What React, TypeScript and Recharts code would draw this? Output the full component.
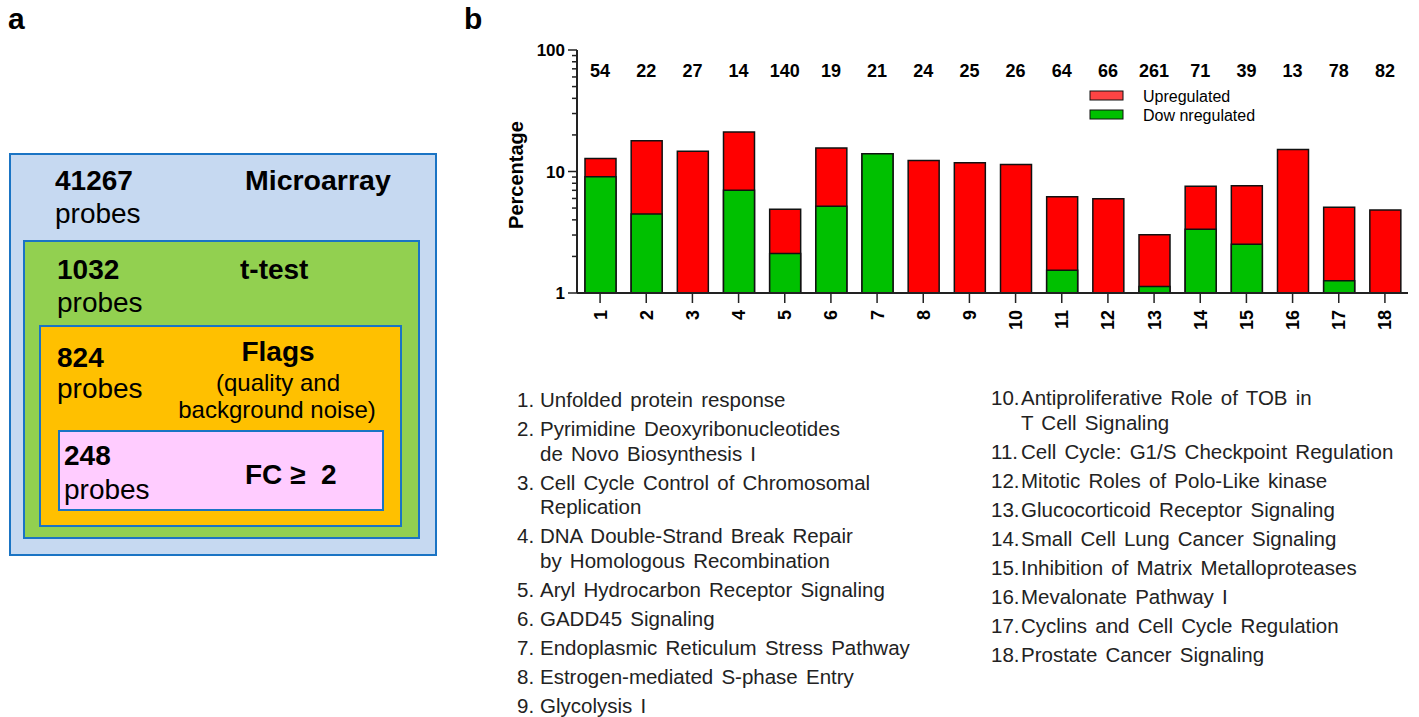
import React from 'react'
import { BarChart, Bar, XAxis, YAxis, Legend } from 'recharts'

// pathway ids on the x axis, gene counts printed above the bars
const pathwayIds = ['1', '2', '3', '4', '5', '6', '7', '8', '9', '10', '11', '12', '13', '14', '15', '16', '17', '18']
const geneCounts = [54, 22, 27, 14, 140, 19, 21, 24, 25, 26, 64, 66, 261, 71, 39, 13, 78, 82]
// top of the red bar (up + down) and top of the green bar (down), in %
const totalPct = [12.8, 17.9, 14.7, 21.1, 4.9, 15.6, 14.0, 12.3, 11.8, 11.4, 6.2, 5.97, 3.02, 7.55, 7.64, 15.2, 5.07, 4.82]
const downPct = [9.06, 4.47, null, 7.0, 2.11, 5.17, 14.0, null, null, null, 1.54, null, 1.13, 3.34, 2.52, null, 1.26, null]
const yTicks = [1, 2, 3, 4, 5, 6, 7, 8, 9, 10, 20, 30, 40, 50, 60, 70, 80, 90, 100]
const majorTicks = [1, 10, 100]

const pathwayNames = [
  ['Unfolded protein response'],
  ['Pyrimidine Deoxyribonucleotides', 'de Novo Biosynthesis I'],
  ['Cell Cycle Control of Chromosomal', 'Replication'],
  ['DNA Double-Strand Break Repair', 'by Homologous Recombination'],
  ['Aryl Hydrocarbon Receptor Signaling'],
  ['GADD45 Signaling'],
  ['Endoplasmic Reticulum Stress Pathway'],
  ['Estrogen-mediated S-phase Entry'],
  ['Glycolysis I'],
  ['Antiproliferative Role of TOB in', 'T Cell Signaling'],
  ['Cell Cycle: G1/S Checkpoint Regulation'],
  ['Mitotic Roles of Polo-Like kinase'],
  ['Glucocorticoid Receptor Signaling'],
  ['Small Cell Lung Cancer Signaling'],
  ['Inhibition of Matrix Metalloproteases'],
  ['Mevalonate Pathway I'],
  ['Cyclins and Cell Cycle Regulation'],
  ['Prostate Cancer Signaling'],
]

const filterSteps = [
  { count: '41267', step: 'Microarray' },
  { count: '1032', step: 't-test' },
  { count: '824', step: 'Flags' },
  { count: '248', step: 'FC \u2265  2' },
]

const FONT = 'Liberation Sans, Arial, Helvetica, sans-serif'

const data = pathwayIds.map((id, i) => ({
  id,
  total: totalPct[i],
  down: downPct[i],
}))

function YTick(props: any) {
  const { x, y, payload } = props
  const major = majorTicks.includes(payload.value)
  return (
    <g>
      <line x1={x - (major ? 9 : 5)} x2={x} y1={y} y2={y} stroke="#222" strokeWidth={1.5} />
      {major && (
        <text x={x - 12} y={y} dy="0.36em" textAnchor="end" fontSize={17} fontWeight="bold" fill="#000" fontFamily={FONT}>
          {payload.value}
        </text>
      )}
    </g>
  )
}

function XTick(props: any) {
  const { x, y, payload } = props
  return (
    <g transform={`translate(${x},${y})`}>
      <line x1={0} x2={0} y1={0} y2={10} stroke="#222" strokeWidth={1.5} />
      <text transform="rotate(-90)" x={-17} y={0} dy="0.36em" textAnchor="end" fontSize={18} fontWeight="bold" fill="#000" fontFamily={FONT}>
        {payload.value}
      </text>
    </g>
  )
}

function CountTick(props: any) {
  const { x, payload } = props
  return (
    <text x={x} y={77} textAnchor="middle" fontSize={18} fontWeight="bold" fill="#000" fontFamily={FONT}>
      {geneCounts[payload.index]}
    </text>
  )
}

function LegendBox() {
  const items = [
    { label: 'Upregulated', color: '#ff4444' },
    { label: 'Dow nregulated', color: '#00c000' },
  ]
  return (
    <svg width={200} height={40}>
      {items.map((it, i) => (
        <g key={it.label}>
          <rect x={1} y={4 + i * 19} width={33} height={9} fill={it.color} stroke="#111" strokeWidth={1} />
          <text x={54} y={9 + i * 19} dy="0.36em" fontSize={16} fill="#000" fontFamily={FONT}>
            {it.label}
          </text>
        </g>
      ))}
    </svg>
  )
}

function FilterPanel() {
  const boxes = [
    { x: 10, y: 154, w: 426, h: 401, fill: '#c6d9f1' },
    { x: 24, y: 241, w: 395, h: 297, fill: '#92d050' },
    { x: 40, y: 326, w: 361, h: 200, fill: '#ffc000' },
    { x: 59, y: 431, w: 324, h: 79, fill: '#ffccff' },
  ]
  const countPos = [
    { x: 55, y: 190, py: 223 },
    { x: 57, y: 279, py: 312 },
    { x: 57, y: 367, py: 398 },
    { x: 64, y: 465, py: 499 },
  ]
  return (
    <g fontFamily={FONT} fill="#000">
      {boxes.map((b, i) => (
        <rect key={i} x={b.x} y={b.y} width={b.w} height={b.h} fill={b.fill} stroke="#1a74c4" strokeWidth={2} />
      ))}
      {filterSteps.map((s, i) => (
        <g key={s.step}>
          <text x={countPos[i].x} y={countPos[i].y} fontSize={28} fontWeight="bold">{s.count}</text>
          <text x={countPos[i].x} y={countPos[i].py} fontSize={28}>probes</text>
        </g>
      ))}
      <text x={245} y={190} fontSize={28.5} fontWeight="bold">{filterSteps[0].step}</text>
      <text x={240} y={279} fontSize={28} fontWeight="bold">{filterSteps[1].step}</text>
      <text x={278} y={361} fontSize={28} fontWeight="bold" textAnchor="middle">{filterSteps[2].step}</text>
      <text x={278} y={391} fontSize={24} textAnchor="middle">(quality and</text>
      <text x={277} y={418} fontSize={24} textAnchor="middle">background noise)</text>
      <text x={245} y={484} fontSize={28} fontWeight="bold" style={{ whiteSpace: 'pre' }}>{filterSteps[3].step}</text>
    </g>
  )
}

function PathwayList() {
  const columns = [
    { x: 517, tx: 540, y: 407, from: 0, to: 9 },
    { x: 991, tx: 1021, y: 405, from: 9, to: 18 },
  ]
  return (
    <g fontFamily={FONT} fontSize={20.5} fill="#222" wordSpacing={2.5}>
      {columns.map((c) => {
        let y = c.y
        const rows: React.ReactNode[] = []
        for (let i = c.from; i < c.to; i++) {
          pathwayNames[i].forEach((line, j) => {
            rows.push(
              <g key={`${i}-${j}`}>
                {j === 0 && <text x={c.x} y={y}>{`${i + 1}.`}</text>}
                <text x={c.tx} y={y}>{line}</text>
              </g>
            )
            y += j === pathwayNames[i].length - 1 ? 29 : 24.5
          })
        }
        return <g key={c.x}>{rows}</g>
      })}
    </g>
  )
}

export default function App() {
  return (
    <div style={{ position: 'absolute', left: 0, top: 0, width: 1419, height: 717, background: '#fff' }}>
      <svg width={1419} height={717} style={{ position: 'absolute', left: 0, top: 0 }}>
        <text x={8} y={29} fontSize={30} fontWeight="bold" fontFamily={FONT}>a</text>
        <text x={464} y={29} fontSize={30} fontWeight="bold" fontFamily={FONT}>b</text>
        <FilterPanel />
        <PathwayList />
        <text transform="translate(523,175) rotate(-90)" textAnchor="middle" fontSize={20} fontWeight="bold" fontFamily={FONT}>
          Percentage
        </text>
      </svg>
      <div style={{ position: 'absolute', left: 0, top: 0 }}>
        <BarChart width={1419} height={340} data={data} margin={{ top: 20, right: 11, left: 517, bottom: 0 }}>
          <XAxis
            xAxisId="top"
            orientation="top"
            dataKey="id"
            height={30}
            axisLine={false}
            tickLine={false}
            interval={0}
            tick={<CountTick />}
          />
          <XAxis
            dataKey="id"
            height={47}
            interval={0}
            tickSize={0}
            tickMargin={0}
            tickLine={false}
            axisLine={{ stroke: '#222', strokeWidth: 2 }}
            tick={<XTick />}
          />
          <XAxis xAxisId="overlay" dataKey="id" hide />
          <YAxis
            scale="log"
            type="number"
            domain={[1, 100]}
            allowDataOverflow
            ticks={yTicks}
            interval={0}
            width={60}
            tickSize={0}
            tickMargin={0}
            tickLine={false}
            axisLine={{ stroke: '#222', strokeWidth: 2 }}
            tick={<YTick />}
          />
          <Legend
            layout="vertical"
            align="center"
            verticalAlign="middle"
            wrapperStyle={{ left: 1089, top: 87, width: 200 }}
            content={() => <LegendBox />}
          />
          <Bar dataKey="total" name="Upregulated" fill="#ff0000" stroke="#111" strokeWidth={1.5} barSize={31} isAnimationActive={false} />
          <Bar xAxisId="overlay" dataKey="down" name="Downregulated" fill="#00c000" stroke="#111" strokeWidth={1.5} barSize={31} isAnimationActive={false} />
        </BarChart>
      </div>
    </div>
  )
}
